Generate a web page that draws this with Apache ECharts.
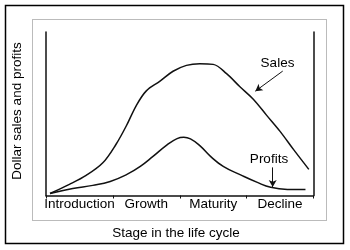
<!DOCTYPE html>
<html>
<head>
<meta charset="utf-8">
<script src="https://cdn.jsdelivr.net/npm/echarts@6.0.0/dist/echarts.min.js"></script>
<style>
html,body{margin:0;padding:0;background:#fff;}
#c{width:350px;height:250px;}
</style>
</head>
<body>
<div id="c"></div>
<script>
const stages = ['Introduction', 'Growth', 'Maturity', 'Decline'];
const salesX = [0.06, 0.35, 0.60, 0.85, 1.05, 1.20, 1.35, 1.50, 1.70, 1.90, 2.10, 2.30, 2.50, 2.70, 2.90, 3.10, 3.30, 3.50, 3.70, 3.93];
const salesY = [1.2, 6.8, 12.3, 20.0, 31.5, 42.5, 55.0, 64.0, 69.8, 76.0, 79.6, 80.6, 80.2, 74.5, 66.5, 58.9, 49.0, 39.2, 28.2, 16.0];
const profitsX = [0.06, 0.40, 0.70, 0.96, 1.21, 1.41, 1.60, 1.81, 1.96, 2.06, 2.16, 2.30, 2.46, 2.65, 2.91, 3.16, 3.36, 3.61, 3.88];
const profitsY = [1.2, 4.3, 6.2, 8.6, 12.9, 17.8, 23.9, 31.0, 34.8, 35.6, 34.6, 30.5, 23.9, 17.8, 12.6, 8.0, 5.0, 3.7, 3.6];
const salesArrow = [[3.54, 76.1], [3.13, 63.8]];
const profitsArrow = [[3.39, 17.2], [3.39, 5.2]];

const FONT = '"Liberation Sans", Arial, Helvetica, sans-serif';
const INK = '#111';
const zip = (xs, ys) => xs.map((x, i) => [x, ys[i]]);

const chart = echarts.init(document.getElementById('c'), null, {renderer: 'canvas'});
const axisLine = {show: true, lineStyle: {color: INK, width: 1.5}};
const arrowLine = (pts) => ({
  silent: true,
  symbol: ['none', 'arrow'],
  symbolSize: [6, 7],
  label: {show: false},
  lineStyle: {color: INK, width: 1, type: 'solid'},
  emphasis: {disabled: true},
  data: [[{coord: pts[0]}, {coord: pts[1]}]]
});

chart.setOption({
  animation: false,
  backgroundColor: '#fff',
  grid: {left: 46, right: 36.5, top: 32, bottom: 54.5},
  xAxis: [
    {type: 'value', min: 0, max: 4, interval: 1, axisLine: axisLine,
     axisTick: {show: true, length: 3, lineStyle: {color: INK, width: 1}},
     axisLabel: {show: false}, splitLine: {show: false}},
    {type: 'category', data: stages, position: 'bottom', boundaryGap: true,
     axisLine: {show: false}, axisTick: {show: false}, splitLine: {show: false},
     axisLabel: {interval: 0, hideOverlap: false, margin: 2, fontSize: 13.5, color: '#000', fontFamily: FONT}}
  ],
  yAxis: [
    {type: 'value', min: 0, max: 100, axisLine: axisLine, axisTick: {show: false},
     axisLabel: {show: false}, splitLine: {show: false}},
    {type: 'value', position: 'right', min: 0, max: 100, axisLine: axisLine, axisTick: {show: false},
     axisLabel: {show: false}, splitLine: {show: false}}
  ],
  series: [
    {name: 'Sales', type: 'line', xAxisIndex: 0, yAxisIndex: 0, data: zip(salesX, salesY),
     smooth: 0.35, showSymbol: false, lineStyle: {color: INK, width: 1.5}, silent: true,
     markLine: arrowLine(salesArrow)},
    {name: 'Profits', type: 'line', xAxisIndex: 0, yAxisIndex: 0, data: zip(profitsX, profitsY),
     smooth: 0.45, showSymbol: false, lineStyle: {color: INK, width: 1.5}, silent: true,
     markLine: arrowLine(profitsArrow)}
  ],
  graphic: [
    {type: 'rect', shape: {x: 5.5, y: 5.5, width: 338, height: 238}, silent: true,
     style: {fill: 'none', stroke: '#000', lineWidth: 1.5}},
    {type: 'rect', shape: {x: 32.5, y: 19.5, width: 294, height: 201}, silent: true,
     style: {fill: 'none', stroke: '#777', lineWidth: 1, lineDash: [1, 1]}},
    {type: 'text', x: 17.5, y: 111, rotation: Math.PI / 2, silent: true,
     style: {text: 'Dollar sales and profits', font: '13.5px ' + FONT, fill: '#000', align: 'center', verticalAlign: 'middle'}},
    {type: 'text', x: 176, y: 233, silent: true,
     style: {text: 'Stage in the life cycle', font: '13.5px ' + FONT, fill: '#000', align: 'center', verticalAlign: 'middle'}},
    {type: 'text', x: 277.5, y: 63, silent: true,
     style: {text: 'Sales', font: '13.5px ' + FONT, fill: '#000', align: 'center', verticalAlign: 'middle'}},
    {type: 'text', x: 269, y: 159.5, silent: true,
     style: {text: 'Profits', font: '13.5px ' + FONT, fill: '#000', align: 'center', verticalAlign: 'middle'}}
  ]
});
</script>
</body>
</html>
